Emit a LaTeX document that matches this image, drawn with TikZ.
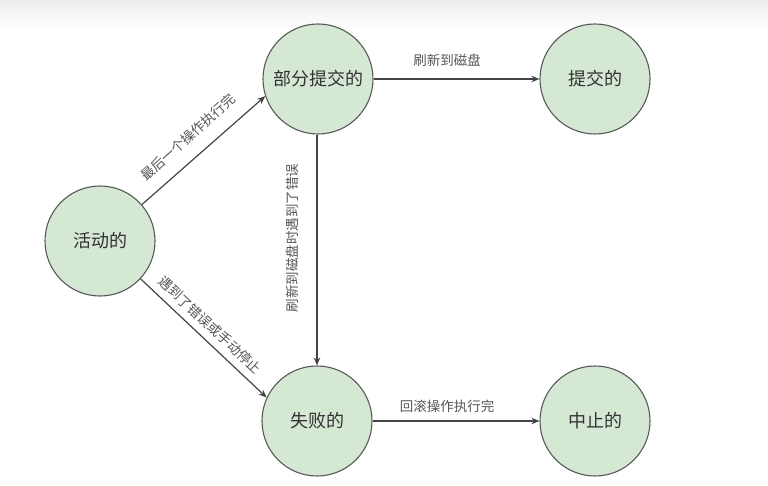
\documentclass[tikz,border=0pt]{standalone}
\usepackage{fontspec}
\setmainfont{Noto Sans CJK SC}
\usetikzlibrary{arrows.meta}
\definecolor{nodefill}{HTML}{D5E8D4}
\definecolor{nodeline}{HTML}{5A5A5A}
\definecolor{edgeline}{HTML}{444444}
\definecolor{nodetext}{HTML}{333333}
\definecolor{labeltext}{HTML}{555555}
\tikzset{
  state/.style={circle, draw=nodeline, fill=nodefill, line width=1.1pt,
    minimum size=110pt, inner sep=0pt, text=nodetext,
    font=\fontsize{18}{20}\selectfont},
  conn/.style={draw=edgeline, line width=1.2pt, -{Stealth[length=8pt,width=6.5pt]}},
  elabel/.style={text=labeltext, font=\fontsize{13.5}{15}\selectfont, inner sep=0pt}
}
\begin{document}
\begin{tikzpicture}[x=1pt,y=-1pt]
\useasboundingbox (0,0) rectangle (768,486);
\shade[top color=black!7, bottom color=white] (0,0) rectangle (768,30);
\node[state] (active) at (100,241) {活动的};
\node[state] (partial) at (318,79) {部分提交的};
\node[state] (commit) at (595,79) {提交的};
\node[state] (failed) at (317,421) {失败的};
\node[state] (abort) at (595,421) {中止的};

\draw[conn] (active.41) -- (partial.198);
\draw[conn] (active.-43) -- (failed.155);
\draw[conn] (partial.south -| failed.north) -- (failed.north);
\draw[conn] (partial.east) -- (commit.west);
\draw[conn] (failed.east) -- (abort.west);

\node[elabel, rotate=42] (l1) at (188,137) {最后一个操作执行完};
\node[elabel, rotate=-43] (l2) at (210,325) {遇到了错误或手动停止};
\node[elabel, rotate=90] (l3) at (292,238) {刷新到磁盘时遇到了错误};
\node[elabel] (l4) at (447,60) {刷新到磁盘};
\node[elabel] (l5) at (447,406) {回滚操作执行完};
\end{tikzpicture}
\end{document}
